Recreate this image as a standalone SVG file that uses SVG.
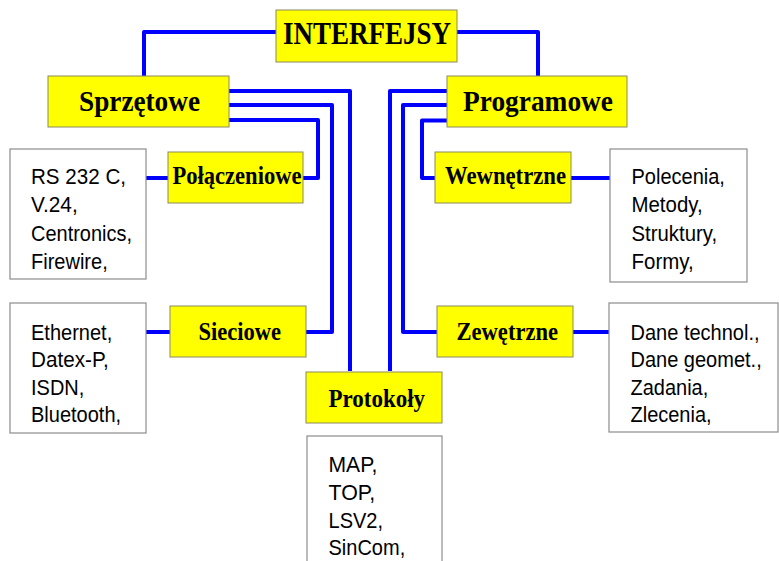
<svg xmlns="http://www.w3.org/2000/svg" width="779" height="561" viewBox="0 0 779 561">
<style>
.y{fill:#ffff00;stroke:#8a8a60;stroke-width:1}
.w{fill:#ffffff;stroke:#8c8c8c;stroke-width:1.2}
.h{font-family:"Liberation Serif","Times New Roman",serif;font-weight:bold;fill:#000;text-anchor:start}
.t{font-family:"Liberation Sans",Arial,sans-serif;font-size:22px;fill:#000}
.c{fill:none;stroke:#0000ff;stroke-width:4;stroke-linejoin:round}
</style>
<rect width="779" height="561" fill="#ffffff"/>
<g id="connectors">
<polyline class="c" points="276,32 144,32 144,76"/>
<polyline class="c" points="457,32 538,32 538,76"/>
<polyline class="c" points="229,91 350,91 350,371"/>
<polyline class="c" points="229,105 332,105 332,332 306,332"/>
<polyline class="c" points="229,120 318,120 318,178 303,178"/>
<polyline class="c" points="447,91 390,91 390,371"/>
<polyline class="c" points="447,105 403,105 403,332 437,332"/>
<polyline class="c" points="447,120.5 422,120.5 422,178 435,178"/>
<line class="c" x1="146" y1="178" x2="168" y2="178"/>
<line class="c" x1="146" y1="332" x2="170" y2="332"/>
<line class="c" x1="571" y1="178" x2="610" y2="178"/>
<line class="c" x1="573" y1="332" x2="609" y2="332"/>
</g>
<g id="interfejsy">
<rect class="y" x="276" y="10" width="181" height="52"/>
<text class="h" x="283" y="44" font-size="32" textLength="168" lengthAdjust="spacingAndGlyphs">INTERFEJSY</text>
</g>
<g id="sprzetowe">
<rect class="y" x="48" y="76" width="181" height="51"/>
<text class="h" x="79" y="110.5" font-size="30" textLength="121" lengthAdjust="spacingAndGlyphs">Sprzętowe</text>
</g>
<g id="programowe">
<rect class="y" x="447" y="76" width="180" height="51"/>
<text class="h" x="463" y="110.5" font-size="30" textLength="150" lengthAdjust="spacingAndGlyphs">Programowe</text>
</g>
<g id="polaczeniowe">
<rect class="y" x="168" y="152" width="135" height="51"/>
<text class="h" x="172.5" y="183.5" font-size="25" textLength="129" lengthAdjust="spacingAndGlyphs">Połączeniowe</text>
</g>
<g id="wewnetrzne">
<rect class="y" x="435" y="152" width="136" height="51"/>
<text class="h" x="445" y="184" font-size="25" textLength="121" lengthAdjust="spacingAndGlyphs">Wewnętrzne</text>
</g>
<g id="sieciowe">
<rect class="y" x="170" y="306" width="136" height="51"/>
<text class="h" x="198.5" y="340" font-size="25" textLength="82.5" lengthAdjust="spacingAndGlyphs">Sieciowe</text>
</g>
<g id="zewnetrzne">
<rect class="y" x="437" y="306" width="136" height="51"/>
<text class="h" x="456.5" y="340" font-size="25" textLength="101.5" lengthAdjust="spacingAndGlyphs">Zewętrzne</text>
</g>
<g id="protokoly">
<rect class="y" x="306" y="372" width="136" height="51"/>
<text class="h" x="328.5" y="407" font-size="25" textLength="96.5" lengthAdjust="spacingAndGlyphs">Protokoły</text>
</g>
<g id="list-polaczeniowe">
<rect class="w" x="10" y="149" width="136" height="130"/>
<text class="t" x="31" y="184" textLength="95" lengthAdjust="spacingAndGlyphs">RS 232 C,</text>
<text class="t" x="31" y="212" textLength="46.7" lengthAdjust="spacingAndGlyphs">V.24,</text>
<text class="t" x="31" y="240.5" textLength="101" lengthAdjust="spacingAndGlyphs">Centronics,</text>
<text class="t" x="31" y="268.5" textLength="76.7" lengthAdjust="spacingAndGlyphs">Firewire,</text>
</g>
<g id="list-wewnetrzne">
<rect class="w" x="610" y="149" width="137" height="133"/>
<text class="t" x="631.5" y="184" textLength="93.4" lengthAdjust="spacingAndGlyphs">Polecenia,</text>
<text class="t" x="631.5" y="212" textLength="71.1" lengthAdjust="spacingAndGlyphs">Metody,</text>
<text class="t" x="631.5" y="240.5" textLength="85.6" lengthAdjust="spacingAndGlyphs">Struktury,</text>
<text class="t" x="631.5" y="268.5" textLength="62.2" lengthAdjust="spacingAndGlyphs">Formy,</text>
</g>
<g id="list-sieciowe">
<rect class="w" x="10" y="303" width="136" height="130"/>
<text class="t" x="31" y="339.5" textLength="81.2" lengthAdjust="spacingAndGlyphs">Ethernet,</text>
<text class="t" x="31" y="367" textLength="77.8" lengthAdjust="spacingAndGlyphs">Datex-P,</text>
<text class="t" x="31" y="395" textLength="53.3" lengthAdjust="spacingAndGlyphs">ISDN,</text>
<text class="t" x="31" y="422" textLength="90.1" lengthAdjust="spacingAndGlyphs">Bluetooth,</text>
</g>
<g id="list-zewnetrzne">
<rect class="w" x="609" y="303" width="169" height="129"/>
<text class="t" x="630.5" y="339.5" textLength="129" lengthAdjust="spacingAndGlyphs">Dane technol.,</text>
<text class="t" x="630.5" y="367" textLength="131.2" lengthAdjust="spacingAndGlyphs">Dane geomet.,</text>
<text class="t" x="630.5" y="395" textLength="77.8" lengthAdjust="spacingAndGlyphs">Zadania,</text>
<text class="t" x="630.5" y="422" textLength="81.1" lengthAdjust="spacingAndGlyphs">Zlecenia,</text>
</g>
<g id="list-protokoly">
<rect class="w" x="307" y="436" width="135" height="140"/>
<text class="t" x="328.5" y="471.5" textLength="48.9" lengthAdjust="spacingAndGlyphs">MAP,</text>
<text class="t" x="328.5" y="499.5" textLength="46.7" lengthAdjust="spacingAndGlyphs">TOP,</text>
<text class="t" x="328.5" y="527.5" textLength="54.5" lengthAdjust="spacingAndGlyphs">LSV2,</text>
<text class="t" x="328.5" y="555" textLength="76.7" lengthAdjust="spacingAndGlyphs">SinCom,</text>
</g>
</svg>
